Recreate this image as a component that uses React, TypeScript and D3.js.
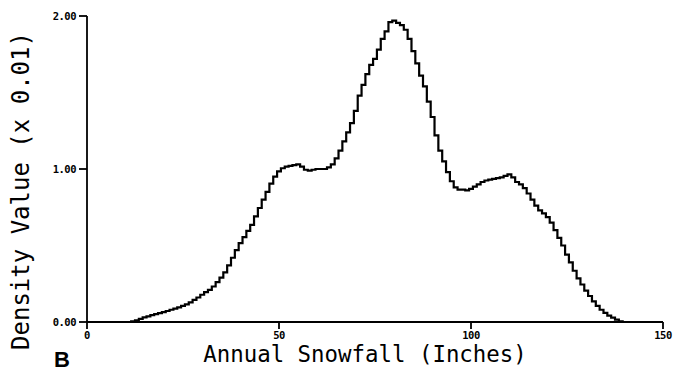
import React from "react";
import * as d3 from "d3";

// annual snowfall (inches), one step per inch
const inches = d3.range(0, 141);
// density value (x 0.01)
const density = [
  0, 0, 0, 0, 0, 0, 0, 0, 0, 0, 0, 0,
  0.005, 0.01, 0.02, 0.03, 0.037, 0.045, 0.052, 0.058, 0.065, 0.072,
  0.08, 0.088, 0.096, 0.105, 0.115, 0.128, 0.145, 0.16, 0.178, 0.195,
  0.21, 0.232, 0.26, 0.29, 0.325, 0.37, 0.42, 0.47, 0.515, 0.555,
  0.595, 0.635, 0.69, 0.745, 0.8, 0.85, 0.905, 0.95, 0.985, 1.005,
  1.015, 1.02, 1.025, 1.03, 1.015, 0.995, 0.99, 0.995, 1.0, 1.0,
  1.0, 1.01, 1.03, 1.07, 1.12, 1.18, 1.24, 1.3, 1.38, 1.48,
  1.55, 1.62, 1.68, 1.72, 1.78, 1.85, 1.9, 1.96, 1.97, 1.955,
  1.94, 1.91, 1.85, 1.77, 1.69, 1.61, 1.54, 1.44, 1.34, 1.22,
  1.12, 1.05, 0.98, 0.92, 0.88, 0.865, 0.865, 0.86, 0.87, 0.885,
  0.9, 0.915, 0.925, 0.93, 0.935, 0.94, 0.945, 0.955, 0.965, 0.945,
  0.915, 0.9, 0.875, 0.84, 0.8, 0.76, 0.73, 0.71, 0.685, 0.65,
  0.6, 0.55, 0.5, 0.44, 0.39, 0.335, 0.285, 0.245, 0.205, 0.17,
  0.135, 0.105, 0.08, 0.06, 0.042, 0.028, 0.015, 0.005, 0,
];
const xTicks = [0, 50, 100, 150];
const yTicks = [0, 1, 2];

const W = 682;
const H = 376;

export default function App() {
  const x = d3.scaleLinear().domain([0, 150]).range([87, 663]);
  const y = d3.scaleLinear().domain([0, 2]).range([322, 16]);

  const line = d3
    .line<number>()
    .x((_, i) => x(inches[i]))
    .y((d) => y(d))
    .curve(d3.curveStep);

  const mono = "'DejaVu Sans Mono', monospace";

  return (
    <svg
      width={W}
      height={H}
      style={{ position: "absolute", left: 0, top: 0, background: "#fff" }}
    >
      {/* axes */}
      <line x1={x(0)} x2={x(150)} y1={y(0)} y2={y(0)} stroke="#000" strokeWidth={1.8} />
      <line x1={x(0)} x2={x(0)} y1={y(0)} y2={y(2)} stroke="#000" strokeWidth={1.8} />

      {yTicks.map((t) => (
        <g key={"y" + t}>
          <line x1={x(0) - 8} x2={x(0)} y1={y(t)} y2={y(t)} stroke="#000" strokeWidth={1.8} />
          <text
            x={x(0) - 11}
            y={y(t)}
            dy="0.35em"
            textAnchor="end"
            fontFamily={mono}
            fontWeight="bold"
            fontSize={10.5}
            letterSpacing={-0.5}
          >
            {d3.format(".2f")(t)}
          </text>
        </g>
      ))}

      {xTicks.map((t) => (
        <g key={"x" + t}>
          <line x1={x(t)} x2={x(t)} y1={y(0)} y2={y(0) + 7} stroke="#000" strokeWidth={1.8} />
          <text
            x={x(t)}
            y={y(0) + 17}
            textAnchor="middle"
            fontFamily={mono}
            fontWeight="bold"
            fontSize={10.5}
            letterSpacing={-0.5}
          >
            {t}
          </text>
        </g>
      ))}

      <path d={line(density) ?? ""} fill="none" stroke="#000" strokeWidth={2.2} />

      {/* titles */}
      <text
        x={365}
        y={362}
        textAnchor="middle"
        fontFamily={mono}
        fontSize={22.4}
      >
        Annual Snowfall (Inches)
      </text>
      <text
        transform="translate(29,191) rotate(-90)"
        textAnchor="middle"
        fontFamily={mono}
        fontSize={24}
      >
        Density Value (x 0.01)
      </text>
      <text
        x={54}
        y={367}
        fontFamily="'Liberation Sans', Arial, sans-serif"
        fontWeight="bold"
        fontSize={22}
      >
        B
      </text>
    </svg>
  );
}
